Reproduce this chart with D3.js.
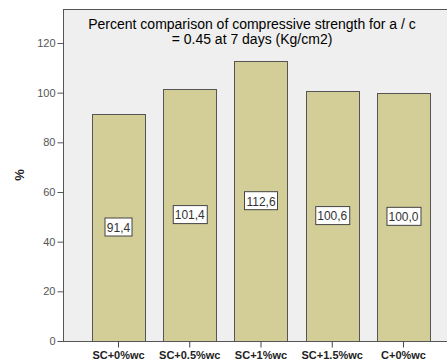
<!DOCTYPE html>
<html>
<head>
<meta charset="utf-8">
<script src="https://cdn.jsdelivr.net/npm/d3@7"></script>
<style>
  html, body { margin: 0; padding: 0; background: #ffffff; }
  svg { display: block; }
</style>
</head>
<body>
<svg id="chart" width="447" height="363"></svg>
<script>
// Mix designs on the x axis
const categories = ["SC+0%wc", "SC+0.5%wc", "SC+1%wc", "SC+1.5%wc", "C+0%wc"];
// Compressive strength relative to the control mix (%)
const percentValues = [91.4, 101.4, 112.6, 100.6, 100.0];
// Value axis ticks
const yTicks = [0, 20, 40, 60, 80, 100, 120];
const titleLines = ["Percent comparison of compressive strength for a / c", "= 0.45 at 7 days (Kg/cm2)"];
const yTitle = "%";

const svg = d3.select("#chart");
const frame = { left: 63, top: 9, right: 452, bottom: 341 };

const y = d3.scaleLinear().domain([0, 120]).range([341, 43]);
const x = d3.scaleBand()
  .domain(categories)
  .range([82.9, 439.1])
  .paddingInner(0.256)
  .paddingOuter(0.128);

// Plot background and frame
svg.append("rect")
  .attr("x", frame.left + 0.5).attr("y", frame.top + 0.5)
  .attr("width", frame.right - frame.left).attr("height", frame.bottom - frame.top)
  .attr("fill", "#efefef").attr("stroke", "#555555").attr("stroke-width", 1);

// Bars
svg.append("g").selectAll("rect")
  .data(percentValues)
  .join("rect")
  .attr("x", (d, i) => Math.round(x(categories[i])) + 0.5)
  .attr("y", d => Math.round(y(d)) + 0.5)
  .attr("width", Math.round(x.bandwidth()))
  .attr("height", d => y(0) - Math.round(y(d)))
  .attr("fill", "#d3ce98")
  .attr("stroke", "#555555")
  .attr("stroke-width", 1);

// Value labels in boxes at mid-height of each bar
const labels = svg.append("g").selectAll("g")
  .data(percentValues)
  .join("g")
  .attr("transform", (d, i) => `translate(${x(categories[i]) + x.bandwidth() / 2},${(y(d) + y(0)) / 2})`);
labels.append("text")
  .attr("text-anchor", "middle")
  .attr("dy", "0.36em")
  .attr("font-family", "Arial, 'Liberation Sans', sans-serif")
  .attr("font-size", 12)
  .attr("fill", "#333333")
  .text(d => d.toFixed(1).replace(".", ","));
labels.each(function () {
  const g = d3.select(this);
  const w = g.select("text").node().getComputedTextLength();
  g.insert("rect", "text")
    .attr("x", Math.round(-w / 2 - 2) + 0.5)
    .attr("y", -9.5)
    .attr("width", Math.round(w + 4))
    .attr("height", 18)
    .attr("fill", "#ffffff")
    .attr("stroke", "#444444")
    .attr("stroke-width", 1);
});

// Y axis
const yAxis = svg.append("g")
  .attr("transform", `translate(${frame.left + 0.5},0)`)
  .call(d3.axisLeft(y).tickValues(yTicks).tickSize(6).tickPadding(2));
yAxis.select(".domain").remove();
yAxis.selectAll("line").attr("stroke", "#555555");
yAxis.selectAll("text")
  .attr("font-family", "Arial, 'Liberation Sans', sans-serif")
  .attr("font-size", 11)
  .attr("fill", "#555555");

// X axis
const xAxis = svg.append("g")
  .attr("transform", `translate(0,${frame.bottom + 0.5})`)
  .call(d3.axisBottom(x).tickSize(6).tickPadding(4));
xAxis.select(".domain").remove();
xAxis.selectAll("line").attr("stroke", "#444444");
xAxis.selectAll("text")
  .attr("font-family", "Arial, 'Liberation Sans', sans-serif")
  .attr("font-size", 11)
  .attr("font-weight", "bold")
  .attr("fill", "#222222");

// Title
const title = svg.append("text")
  .attr("x", 252).attr("y", 29)
  .attr("text-anchor", "middle")
  .attr("font-family", "Arial, 'Liberation Sans', sans-serif")
  .attr("font-size", 14)
  .attr("fill", "#000000");
titleLines.forEach((t, i) => {
  title.append("tspan").attr("x", 252).attr("dy", i === 0 ? 0 : 15).text(t);
});

// Y axis title
svg.append("text")
  .attr("transform", "translate(24,175) rotate(-90)")
  .attr("text-anchor", "middle")
  .attr("font-family", "Arial, 'Liberation Sans', sans-serif")
  .attr("font-size", 13)
  .attr("font-weight", "bold")
  .attr("fill", "#222222")
  .text(yTitle);
</script>
</body>
</html>
